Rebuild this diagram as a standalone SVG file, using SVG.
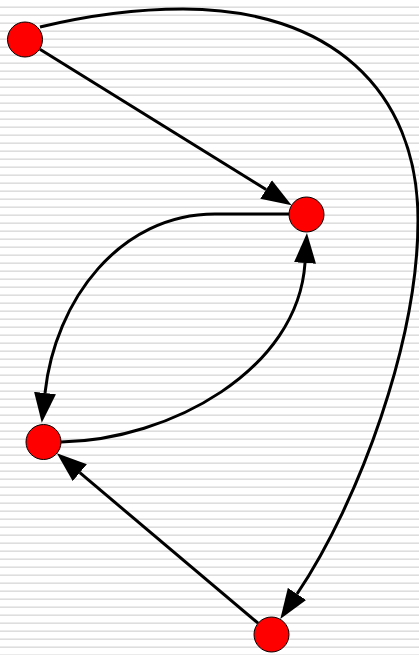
<svg xmlns="http://www.w3.org/2000/svg" width="419" height="655" viewBox="0 0 419 655">
  <defs>
    <pattern id="stripes" x="0" y="0" width="8" height="8" patternUnits="userSpaceOnUse">
      <rect x="0" y="0" width="8" height="8" fill="#ffffff"/>
      <rect x="0" y="6" width="8" height="1" fill="#ebebeb"/>
      <rect x="0" y="7" width="8" height="1" fill="#dedede"/>
    </pattern>
    <marker id="arrow" markerUnits="userSpaceOnUse" markerWidth="32" markerHeight="24" refX="0" refY="12" orient="auto" viewBox="0 0 32 24">
      <path d="M0,1 L30,12 L0,23 z" fill="#000000"/>
    </marker>
    <style>
      .edge { fill: none; stroke: #000000; stroke-width: 3; marker-end: url(#arrow); }
      .node circle { fill: #ff0000; stroke: #000000; stroke-width: 1; }
    </style>
  </defs>
  <rect x="0" y="0" width="419" height="655" fill="url(#stripes)"/>
  <g id="edges">
    <path class="edge" d="M39.9,49.2 L266.1,189.5"/>
    <path class="edge" d="M258.1,623.2 L79.8,472.7"/>
    <path class="edge" d="M61,442 C170,440 298,370 305,263"/>
    <path class="edge" d="M289,214 L215,214 C120,214 55,300 45,393"/>
    <path class="edge" d="M40,27 C90,15 140,9 183,9 C329,9 418,89 418,220 C418,340 360,500 297,594"/>
  </g>
  <g id="node-a" class="node"><circle cx="25" cy="39.5" r="17.5"/></g>
  <g id="node-b" class="node"><circle cx="306.5" cy="214.5" r="17.5"/></g>
  <g id="node-c" class="node"><circle cx="43.5" cy="442" r="17.5"/></g>
  <g id="node-d" class="node"><circle cx="271.5" cy="634.5" r="17.5"/></g>
</svg>
